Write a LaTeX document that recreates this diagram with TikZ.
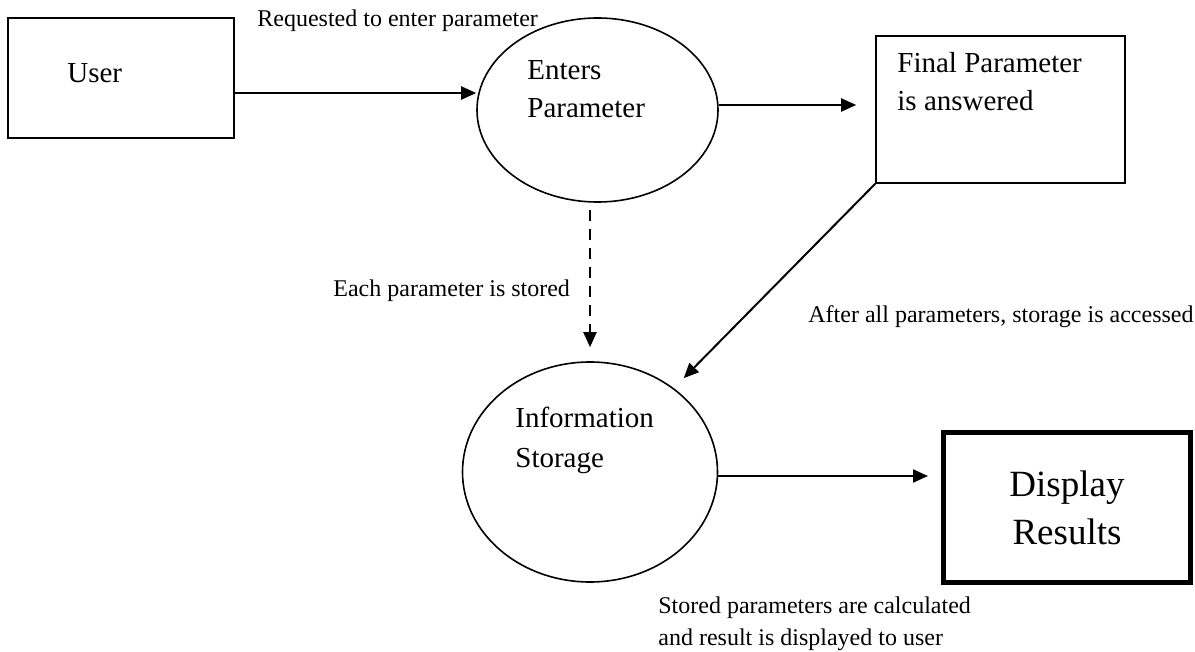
\documentclass[tikz,border=0pt]{standalone}
\usepackage{fontspec}
\setmainfont{Liberation Serif}
\usetikzlibrary{arrows.meta,shapes.geometric}

\begin{document}
\begin{tikzpicture}[x=0.5pt,y=-0.5pt,
	box/.style={draw,line width=0.8pt,inner sep=0pt},
	bubble/.style={draw,ellipse,line width=0.8pt,inner sep=0pt},
	flow/.style={line width=1pt,-{Triangle[length=7.5pt,width=6.5pt]}},
	big/.style={font=\fontsize{14.5}{19}\selectfont},
	small/.style={font=\fontsize{12}{16}\selectfont},
	txt/.style={anchor=base west,inner sep=0pt}]
	%\draw[help lines] (0,0) grid[step=50] (1195,652);
	\useasboundingbox (0,0) rectangle (1195,652);
	\node[box,minimum width=113pt,minimum height=60pt] (user) at (121,78) {};
	\node[bubble,minimum width=120.5pt,minimum height=92pt] (enters) at (597.5,110) {};
	\node[box,minimum width=124.5pt,minimum height=73.5pt] (final) at (1000.5,109.5) {};
	\node[bubble,minimum width=127.5pt,minimum height=110pt] (info) at (590,472) {};
	\node[box,line width=2.5pt,minimum width=123.5pt,minimum height=75pt,align=center,
		font=\fontsize{18.5}{24}\selectfont] (display) at (1067,507.5) {Display\\Results};
	\node[txt,big] (usertext) at (67,83) {User};
	\node[txt,big,align=flush left,text width=60pt] (enterstext) at (527,80) {Enters\\Parameter};
	\node[txt,big,align=flush left,text width=100pt] (finaltext) at (897,73) {Final Parameter\\is answered};
	\node[txt,font=\fontsize{14.5}{20}\selectfont,align=flush left,text width=80pt] (infotext) at (515,428) {Information\\Storage};
	% flows
	\coordinate (userout) at ([yshift=-7.5pt]user.east);
	\draw[flow] (userout) -- (userout -| enters.west);
	\draw[flow,shorten >=9.5pt] ([yshift=2.5pt]enters.east) -- ([yshift=2.5pt]enters.east -| final.west);
	\draw[flow,dash pattern=on 5.5pt off 4pt,shorten <=3.5pt,shorten >=7pt] (enters.south -| info.north) -- (info.north);
	\draw[flow,shorten >=7pt] (final.south west) -- (info.45);
	\draw[flow,shorten >=6.5pt] ([yshift=-2pt]info.east) -- ([yshift=-2pt]info.east -| display.west);
	% labels
	\node[txt,small] (reqlabel) at (257,27) {Requested to enter parameter};
	\node[txt,small] (storelabel) at (333,297) {Each parameter is stored};
	\node[txt,small] (accesslabel) at (808,323) {After all parameters, storage is accessed};
	\node[txt,small,align=flush left,text width=170pt] (calclabel) at (658,613) {Stored parameters are calculated\\and result is displayed to user};
\end{tikzpicture}
\end{document}
